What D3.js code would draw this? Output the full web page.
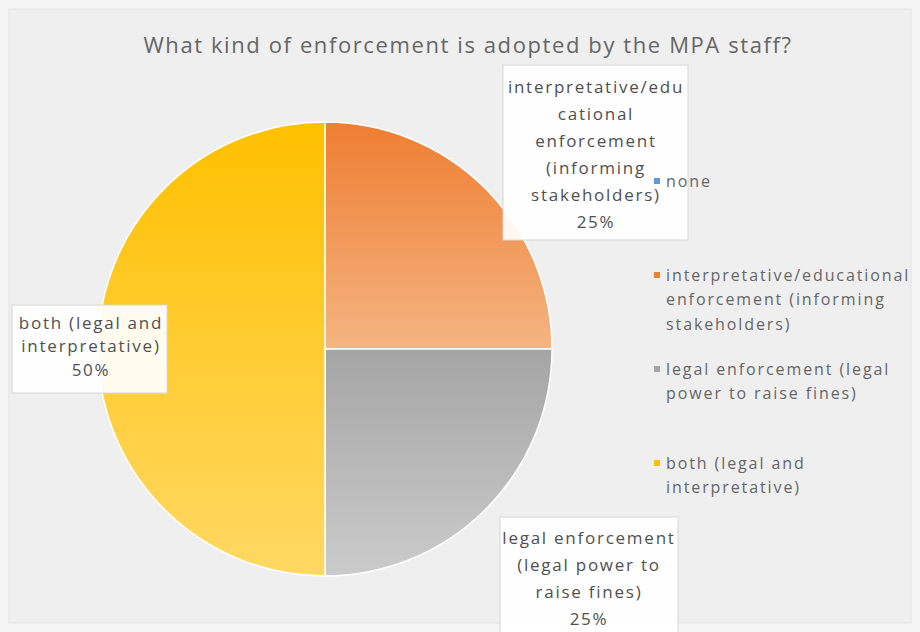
<!DOCTYPE html>
<html><head><meta charset="utf-8">
<script src="https://cdn.jsdelivr.net/npm/d3@7"></script>
<style>
body{margin:0;background:#f5f5f5;}
svg{display:block;font-family:"Open Sans",sans-serif;}
</style>
</head><body>
<svg id="c" width="920" height="632"></svg>
<script>
// ---- data ----
const title = "What kind of enforcement is adopted by the MPA staff?";
const categories = [
  "none",
  "interpretative/educational enforcement (informing stakeholders)",
  "legal enforcement (legal power to raise fines)",
  "both (legal and interpretative)"
];
const values = [0, 25, 25, 50];
const legendLines = [
  ["none"],
  ["interpretative/educational", "enforcement (informing", "stakeholders)"],
  ["legal enforcement (legal", "power to raise fines)"],
  ["both (legal and", "interpretative)"]
];
const labelLines = [
  [],
  ["interpretative/edu", "cational", "enforcement", "(informing", "stakeholders)"],
  ["legal enforcement", "(legal power to", "raise fines)"],
  ["both (legal and", "interpretative)"]
];

// ---- styles / layout ----
const colors = ["#5B9BD5", "#EE7E32", "#A5A5A5", "#FFC000"];
const colorsLight = ["#9DC3E6", "#F5B482", "#CBCBCB", "#FFD864"];
const W = 920, H = 632;
const cx = 325, cy = 349, R = 227;
const labelLayout = [
  null,
  {bx: 503, by: 65, bw: 185, bh: 175, tx: 596, ty: 87, lh: 27},
  {bx: 500, by: 517, bw: 178, bh: 125, tx: 589, ty: 538, lh: 27},
  {bx: 12, by: 305, bw: 155, bh: 88, tx: 91, ty: 323, lh: 23.5}
];

const svg = d3.select("#c");
const defs = svg.append("defs");

svg.append("rect").attr("x", 9).attr("y", 9).attr("width", W - 18).attr("height", H - 18)
  .attr("fill", "#efefef").attr("stroke", "#e3e3e3");

svg.append("text").attr("x", 468).attr("y", 45).attr("dy", "0.35em")
  .attr("text-anchor", "middle").attr("fill", "#666")
  .style("font-size", "22px").style("letter-spacing", "1.6px").text(title);

// gradients
categories.forEach((c, i) => {
  const g = defs.append("linearGradient").attr("id", "g" + i)
    .attr("x1", 0).attr("y1", 0).attr("x2", 0).attr("y2", 1);
  g.append("stop").attr("offset", "0%").attr("stop-color", colors[i]);
  g.append("stop").attr("offset", "100%").attr("stop-color", colorsLight[i]);
});

const pie = d3.pie().sort(null).value(d => d)(values);
const arc = d3.arc().innerRadius(0).outerRadius(R);

const gp = svg.append("g").attr("transform", `translate(${cx},${cy})`);
gp.selectAll("path").data(pie).join("path")
  .attr("d", arc)
  .attr("fill", (d, i) => `url(#g${i})`)
  .attr("stroke", "#fff").attr("stroke-width", 1.5);

// data labels
const total = d3.sum(values);
const pct = d3.format(".0%");
pie.forEach((d, i) => {
  const L = labelLayout[i];
  if (!L || d.value === 0) return;
  svg.append("rect").attr("x", L.bx).attr("y", L.by).attr("width", L.bw).attr("height", L.bh)
    .attr("fill", "#fff").attr("fill-opacity", 0.92).attr("stroke", "#d6d6d6");
  const lines = labelLines[i].concat([pct(d.value / total)]);
  const t = svg.append("text").attr("text-anchor", "middle").attr("fill", "#505050")
    .style("font-size", "17px").style("letter-spacing", "1.75px");
  lines.forEach((s, k) => {
    t.append("tspan").attr("x", L.tx).attr("y", L.ty + k * L.lh).attr("dy", "0.35em").text(s);
  });
});

// legend
const ly = d3.scalePoint().domain(categories).range([181, 463]);
const lg = svg.append("g");
categories.forEach((c, i) => {
  const y = ly(c);
  lg.append("rect").attr("x", 654).attr("y", y - 3).attr("width", 6).attr("height", 6)
    .attr("fill", colors[i]);
  const t = lg.append("text").attr("fill", "#666")
    .style("font-size", "16px").style("letter-spacing", "1.9px");
  legendLines[i].forEach((s, k) => {
    t.append("tspan").attr("x", 666).attr("y", y + k * 24.5).attr("dy", "0.35em").text(s);
  });
});
</script>
</body></html>
